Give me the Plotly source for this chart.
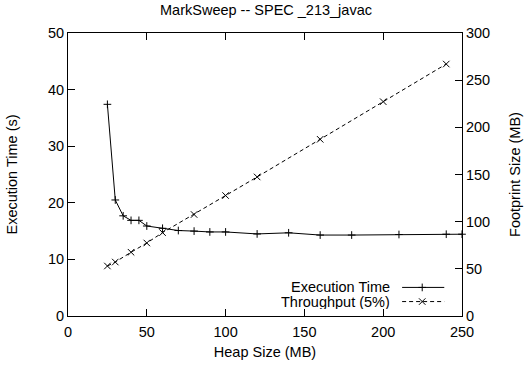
import plotly.graph_objects as go

heap_exec = [25, 30, 35, 40, 45, 50, 60, 70, 80, 90, 100, 120, 140, 160, 180, 210, 240, 250]
exec_time = [37.4, 20.5, 17.7, 16.9, 16.9, 15.9, 15.5, 15.1, 15.0, 14.85, 14.85, 14.5, 14.7, 14.3, 14.3, 14.4, 14.45, 14.45]

heap_tp = [25, 30, 40, 50, 60, 80, 100, 120, 160, 200, 240]
footprint = [53, 57.2, 67.6, 77.4, 88.4, 107.6, 127.7, 147.4, 187.3, 227.2, 267.1]

title = "MarkSweep -- SPEC _213_javac"
legend_names = ["Execution Time", "Throughput (5%)"]

FONT = dict(family="Liberation Sans, Arial, sans-serif", size=14.5, color="black")
PLUS = dict(symbol="cross-thin", size=5.5, line=dict(color="black", width=1))
CROSS = dict(symbol="x-thin", size=6.5, line=dict(color="black", width=1))

fig = go.Figure()
fig.add_trace(go.Scatter(
    x=heap_exec, y=exec_time, mode="lines+markers", name=legend_names[0],
    line=dict(color="black", width=1), marker=PLUS,
    cliponaxis=False, showlegend=False))
fig.add_trace(go.Scatter(
    x=heap_tp, y=footprint, mode="lines+markers", name=legend_names[1], yaxis="y2",
    line=dict(color="black", width=1, dash="4px,3px"), marker=CROSS,
    showlegend=False))

# custom legend keys (text then sample, gnuplot style)
leg_y = [0.101, 0.051]
for i, (name, yy) in enumerate(zip(legend_names, leg_y)):
    fig.add_annotation(x=0.823, y=yy, xref="paper", yref="paper", text=name, height=14,
                       showarrow=False, xanchor="right", yanchor="middle", font=FONT)
    fig.add_shape(type="line", xref="paper", yref="paper", x0=0.848, x1=0.955, y0=yy, y1=yy,
                  line=dict(color="black", width=1, dash="solid" if i == 0 else "4px,3px"))
fig.add_trace(go.Scatter(x=[0.899], y=[leg_y[0]], xaxis="x3", yaxis="y3", mode="markers",
                         marker=PLUS, showlegend=False, hoverinfo="skip"))
fig.add_trace(go.Scatter(x=[0.899], y=[leg_y[1]], xaxis="x3", yaxis="y3", mode="markers",
                         marker=CROSS, showlegend=False, hoverinfo="skip"))

axis_common = dict(showgrid=False, zeroline=False, linecolor="black", linewidth=1,
                   ticks="inside", ticklen=7, tickcolor="black", tickfont=FONT)

fig.update_layout(
    width=532, height=370,
    margin=dict(l=67, r=69, t=33, b=48),
    paper_bgcolor="white", plot_bgcolor="white",
    font=FONT,
    title=dict(text=title, x=0.5, xanchor="center", y=0.972, yanchor="middle", font=FONT),
    xaxis=dict(range=[0, 250], tickvals=[0, 50, 100, 150, 200, 250], showline=True, mirror="ticks",
               ticklabelstandoff=3,
               title=dict(text="Heap Size (MB)", font=FONT, standoff=7), **axis_common),
    yaxis=dict(range=[0, 50], tickvals=[0, 10, 20, 30, 40, 50], showline=True,
               title=dict(text="Execution Time (s)", font=FONT, standoff=26), **axis_common),
    yaxis2=dict(range=[0, 300], tickvals=[0, 50, 100, 150, 200, 250, 300], overlaying="y", side="right",
                showline=True, title=dict(text="Footprint Size (MB)", font=FONT, standoff=20), **axis_common),
    xaxis3=dict(range=[0, 1], overlaying="x", visible=False, fixedrange=True),
    yaxis3=dict(range=[0, 1], overlaying="y", visible=False, fixedrange=True),
    showlegend=False,
)

fig.write_html("out.html")
